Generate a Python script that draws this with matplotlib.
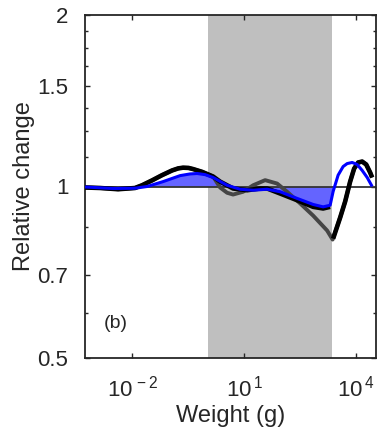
import numpy as np
import matplotlib
matplotlib.use("Agg")
import matplotlib.pyplot as plt
from matplotlib.ticker import FixedLocator, NullFormatter, NullLocator

plt.rcParams['font.family'] = ['Liberation Sans', 'DejaVu Sans']
plt.rcParams['mathtext.fontset'] = 'custom'
plt.rcParams['mathtext.rm'] = 'Liberation Sans'
plt.rcParams['mathtext.it'] = 'Liberation Sans'

# ---------------- data ----------------
shade_range = [1.06, 2370]

black_w = [5.3e-4, 1.35e-3, 4.1e-3, 0.0117, 0.0181, 0.0336, 0.0625, 0.116, 0.17, 0.229,
           0.32, 0.426, 0.743, 1.47, 2.26, 5.05, 12.0, 26.9, 41.5, 92.9, 266, 716, 1330, 2050,
           np.nan,
           2466, 3810, 5190, 7070, 9050, 11600, 14900, 19100, 24400, 27600]
black_v = [0.996, 0.994, 0.989, 0.994, 1.005, 1.025, 1.047, 1.067, 1.076, 1.079,
           1.078, 1.073, 1.061, 1.041, 1.020, 0.992, 0.985, 0.992, 0.992, 0.972, 0.946, 0.921, 0.915, 0.921,
           np.nan,
           0.810, 0.882, 0.941, 1.020, 1.075, 1.102, 1.106, 1.093, 1.058, 1.037]

gray_w = [5.3e-4, 1.35e-3, 4.1e-3, 0.0117, 0.0181, 0.0336, 0.0625, 0.116, 0.17, 0.229,
          0.32, 0.426, 0.743, 1.47, 2.26, 3.49, 5.05, 9.4, 17.5, 36.7, 77, 143, 320, 716, 1700, 2390,
          3810, 5190, 7070, 9050, 11600, 14900, 19100, 24400, 27600]
gray_v = [0.996, 0.994, 0.989, 0.994, 1.005, 1.025, 1.047, 1.067, 1.076, 1.079,
          1.078, 1.073, 1.061, 1.041, 0.996, 0.975, 0.968, 0.979, 1.005, 1.026, 1.012, 0.979, 0.934, 0.889, 0.837, 0.807,
          0.882, 0.941, 1.020, 1.075, 1.102, 1.106, 1.093, 1.058, 1.037]

blue_w = [5.3e-4, 3.0e-3, 0.0117, 0.0247, 0.0665, 0.191, 0.35, 0.546, 0.9, 1.47, 3.49, 7.8, 17.5,
          41.5, 92.9, 266, 716, 1330, 2050, 2466, 3360, 4580, 5870, 8000, 10900, 14900, 20300, 27600]
blue_v = [0.998, 0.992, 0.993, 1.000, 1.020, 1.045, 1.052, 1.054, 1.049, 1.037, 1.005, 0.989, 0.985,
          0.989, 0.979, 0.953, 0.930, 0.921, 0.927, 0.980, 1.047, 1.084, 1.097, 1.102, 1.093, 1.067, 1.037, 1.000]

fill_end = 2466

yticks = [0.5, 0.7, 1, 1.5, 2]
ytick_labels = ['0.5', '0.7', '1', '1.5', '2']
yminor = [0.6, 0.85, 1.125, 1.25, 1.375, 1.625, 1.75, 1.875]
xticks = [1e-2, 1e1, 1e4]
xtick_labels = [r'$10^{\,-2}$', r'$10^{\,1}$', r'$10^{\,4}$']

# ---------------- figure ----------------
fig = plt.figure(figsize=(3.77, 4.34), dpi=100)
ax = fig.add_axes([85/377, 1-358/434, (376-85)/377, (358-15)/434])

ax.axvspan(shade_range[0], shade_range[1], color='#bfbfbf', lw=0, zorder=0)

bw = np.array(blue_w); bv = np.array(blue_v)
ax.fill_between(bw, bv, 1, where=bw <= fill_end, color='#6464ff', lw=0, zorder=1)
ax.axhline(1, color='#333333', lw=1.3, zorder=2)

ax.plot(gray_w, gray_v, color='#454545', lw=2.8, zorder=3, solid_capstyle='butt')
ax.plot(black_w, black_v, color='black', lw=3.3, zorder=4, solid_capstyle='butt')
ax.plot(blue_w, blue_v, color='#0000ff', lw=2.2, zorder=5, solid_capstyle='butt')

ax.set_xscale('log')
ax.set_yscale('log')
ax.set_xlim(5.3e-4, 3.5e4)
ax.set_ylim(0.5, 2)

ax.xaxis.set_major_locator(FixedLocator(xticks))
ax.set_xticklabels(xtick_labels)
ax.xaxis.set_minor_locator(NullLocator())
ax.yaxis.set_major_locator(FixedLocator(yticks))
ax.set_yticklabels(ytick_labels)
ax.yaxis.set_minor_locator(FixedLocator(yminor))
ax.yaxis.set_minor_formatter(NullFormatter())

ax.tick_params(which='both', direction='in', top=True, right=True, width=1.0, color='#262626')
ax.tick_params(which='major', length=3.5, labelsize=16, colors='#262626', labelcolor='#262626')
ax.tick_params(which='minor', length=2.5)
ax.tick_params(axis='y', pad=12)
ax.tick_params(axis='x', pad=13)

for s in ax.spines.values():
    s.set_linewidth(1.3)
    s.set_color('#262626')

ax.set_xlabel('Weight (g)', fontsize=17, color='#262626', labelpad=2)
ax.set_ylabel('Relative change', fontsize=17, color='#262626', labelpad=2)

ax.text(0.105, 0.1, '(b)', transform=ax.transAxes, fontsize=14, color='#262626',
        ha='center', va='center')

fig.savefig('out.png', dpi=100)
